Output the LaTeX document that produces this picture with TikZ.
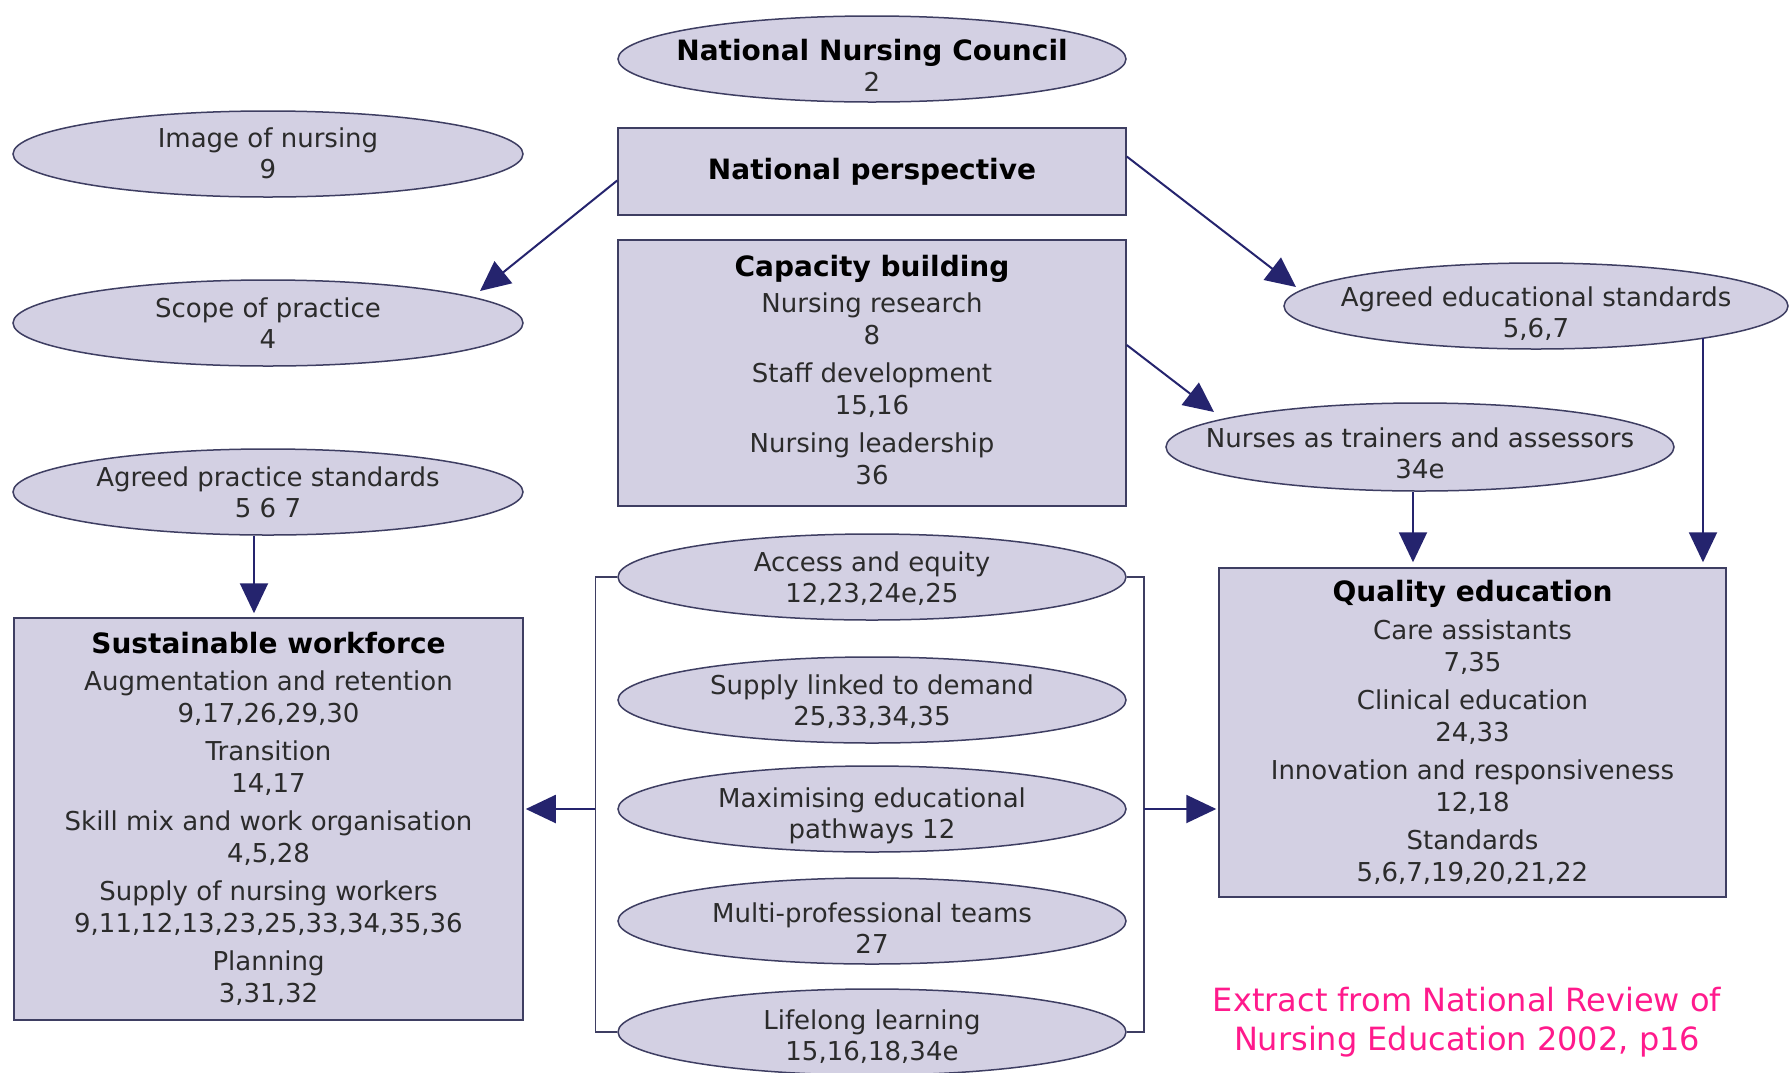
\documentclass[tikz,border=0pt]{standalone}
\usepackage{fontspec}
\setmainfont{DejaVu Sans}
\usetikzlibrary{arrows.meta,shapes.geometric,calc}

\definecolor{boxfill}{HTML}{D3D0E3}
\definecolor{boxline}{HTML}{3E3E62}
\definecolor{arrowblue}{HTML}{25246E}
\definecolor{inktext}{HTML}{2B2B2B}
\definecolor{citepink}{HTML}{FF1A8C}

% heading line inside a panel or oval
\newcommand{\hd}[1]{{\fontsize{28}{32}\selectfont\bfseries\color{black}#1}}
% two centred lines that take no room, so the oval keeps its set size;
% the optional argument lowers the pair below the oval's centre
\newcommand{\twolines}[3][0pt]{\makebox[0pt]{\raisebox{\dimexpr 9.3pt-#1\relax}[0pt][0pt]{%
  \begin{tabular}[t]{@{}c@{}}#2\\#3\end{tabular}}}}

\tikzset{
  oval/.style={ellipse, draw=boxline, fill=boxfill, line width=1.5pt,
    minimum width=508pt, minimum height=86pt, inner sep=0pt,
    text=inktext, font=\fontsize{26}{31}\selectfont},
  panel/.style={rectangle, draw=boxline, fill=boxfill, line width=1.5pt,
    inner sep=0pt, align=center, text=inktext, font=\fontsize{26}{32}\selectfont},
  link/.style={draw=arrowblue, line width=2pt, -{Triangle[length=30pt,width=28pt]}},
  rail/.style={draw=boxline, line width=1.5pt},
}

\begin{document}
\begin{tikzpicture}[x=1pt, y=-1pt]
\useasboundingbox[fill=white] (0,0) rectangle (1791,1072);

% centre column
\node[oval] (nnc) at (872,59) {\twolines[11pt]{\hd{National Nursing Council}}{2}};
\node[panel, minimum width=508pt, minimum height=87pt] (np) at (872,171.5) {\hd{National perspective}};
\node[panel, minimum width=508pt, minimum height=266pt, text depth=7pt] (cb) at (872,373)
  {\hd{Capacity building}\\[4pt]
   Nursing research\\ 8\\[6pt]
   Staff development\\ 15,16\\[6pt]
   Nursing leadership\\ 36};

% left column
\node[oval, minimum width=510pt] (ion) at (268,154) {\twolines[2.5pt]{Image of nursing}{9}};
\node[oval, minimum width=510pt] (sp) at (268,323) {\twolines[3.5pt]{Scope of practice}{4}};
\node[oval, minimum width=510pt] (aps) at (268,492) {\twolines[3.5pt]{Agreed practice standards}{5 6 7}};
\node[panel, minimum width=509pt, minimum height=402pt] (sw) at (268.5,819)
  {\hd{Sustainable workforce}\\[5pt]
   Augmentation and retention\\ 9,17,26,29,30\\[6pt]
   Transition\\ 14,17\\[6pt]
   Skill mix and work organisation\\ 4,5,28\\[6pt]
   Supply of nursing workers\\ 9,11,12,13,23,25,33,34,35,36\\[6pt]
   Planning\\ 3,31,32};

% right column
\node[oval, minimum width=504pt] (aes) at (1536,306) {\twolines[10pt]{Agreed educational standards}{5,6,7}};
\node[oval, minimum height=88pt] (nat) at (1420,447) {\twolines[10pt]{Nurses as trainers and assessors}{34e}};
\node[panel, minimum width=507pt, minimum height=329pt] (qe) at (1472.5,732.5)
  {\hd{Quality education}\\[6pt]
   Care assistants\\ 7,35\\[6pt]
   Clinical education\\ 24,33\\[6pt]
   Innovation and responsiveness\\ 12,18\\[6pt]
   Standards\\ 5,6,7,19,20,21,22};

% grouped themes
\node[oval] (ae) at (872,577) {\twolines[3.5pt]{Access and equity}{12,23,24e,25}};
\node[oval] (sl) at (872,700) {\twolines[4pt]{Supply linked to demand}{25,33,34,35}};
\node[oval] (me) at (872,809) {\twolines[8pt]{Maximising educational}{pathways 12}};
\node[oval] (mp) at (872,921) {\twolines[11pt]{Multi-professional teams}{27}};
\node[oval] (ll) at (872,1032) {\twolines[7pt]{Lifelong learning}{15,16,18,34e}};

% source note
\node[font=\fontsize{32}{39}\selectfont, text=citepink, align=center] (src) at (1467,1022)
  {Extract from National Review of\\Nursing Education 2002, p16};

% arrows from the national perspective and capacity building
\coordinate (npL) at ($(np.west)+(0,9)$);
\coordinate (spT) at ($(sp.center)+(212,-32)$);
\draw[link] (npL) -- (spT);
\coordinate (npR) at ($(np.east)+(0,-15)$);
\coordinate (aesT) at ($(aes.center)+(-240,-19)$);
\draw[link] (npR) -- (aesT);
\coordinate (cbR) at ($(cb.east)+(0,-28)$);
\coordinate (natT) at ($(nat.center)+(-206,-35)$);
\draw[link] (cbR) -- (natT);

% vertical feeds into the two outcome panels
\coordinate (natB) at ($(nat.south)+(-7,0)$);
\draw[link, shorten >=5pt] (natB) -- (natB |- qe.north);
\coordinate (aesB) at ($(aes.center)+(167,32)$);
\draw[link, shorten >=5pt] (aesB) -- (aesB |- qe.north);
\coordinate (apsB) at ($(aps.south)+(-14,0)$);
\draw[link, shorten >=4pt] (apsB) -- (apsB |- sw.north);

% bracket round the grouped themes
\coordinate (bl) at ($(ae.west)+(-22,0)$);
\draw[rail] (ae.west) -- (bl) -- (bl |- ll.west) -- (ll.west);
\coordinate (blm) at (bl |- me.center);
\draw[link, shorten >=2pt] (blm) -- (blm -| sw.east);
\coordinate (br) at ($(ae.east)+(17,0)$);
\draw[rail] (ae.east) -- (br) -- (br |- ll.east) -- (ll.east);
\coordinate (brm) at (br |- me.center);
\draw[link, shorten >=2pt] (brm) -- (brm -| qe.west);
\end{tikzpicture}
\end{document}
